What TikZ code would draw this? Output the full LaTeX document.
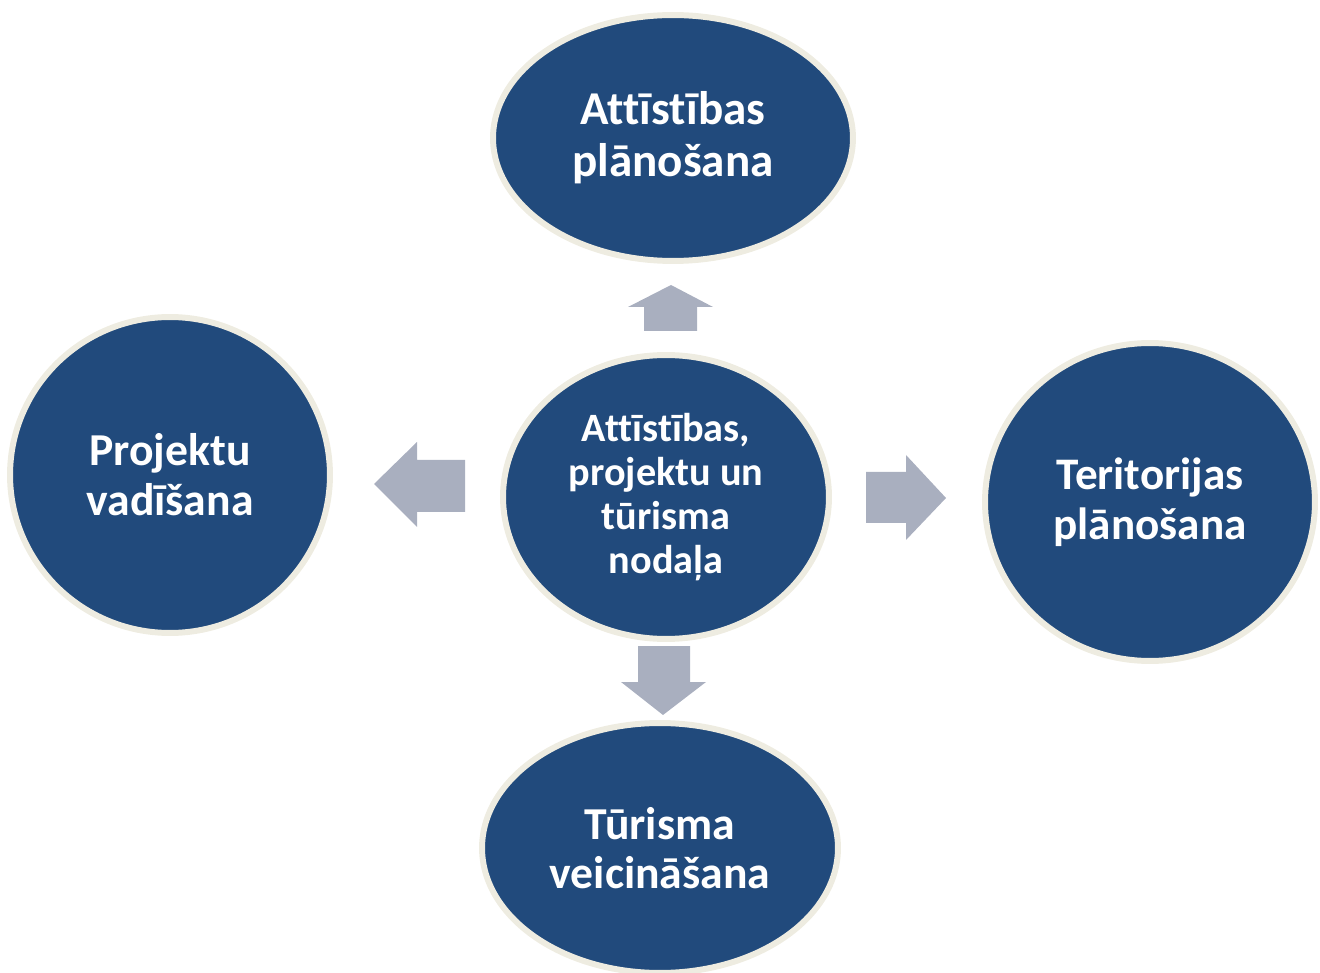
\documentclass[tikz,border=0pt]{standalone}
\usepackage{fontspec}
\setmainfont{Carlito}[Ligatures=NoCommon]
\usetikzlibrary{shapes.geometric}
\definecolor{bluefill}{HTML}{214A7C}
\definecolor{creamrim}{HTML}{EEECE1}
\definecolor{arrowgray}{HTML}{A9AFBF}
\tikzset{
  oval/.style={ellipse, fill=bluefill, draw=creamrim, line width=3.4pt, inner sep=0pt,
    text=white, align=center, font=\bfseries\fontsize{26}{28.3}\selectfont},
  blockarrow/.style={fill=arrowgray, draw=none}
}
\begin{document}
\begin{tikzpicture}[x=0.02cm,y=-0.02cm]
\useasboundingbox (0,0) rectangle (1320,973);
% block arrows
\fill[blockarrow] (671,285) -- (713,307) -- (697,307) -- (697,331) -- (644,331) -- (644,307) -- (628,307) -- cycle;
\fill[blockarrow] (374,484) -- (417,442) -- (417,460) -- (465,460) -- (465,512) -- (417,512) -- (417,527) -- cycle;
\fill[blockarrow] (946,498) -- (906,455) -- (906,472) -- (866,472) -- (866,523) -- (906,523) -- (906,540) -- cycle;
\fill[blockarrow] (663,715) -- (706,682) -- (690,682) -- (690,646) -- (638,646) -- (638,682) -- (621,682) -- cycle;
% ovals
\node[oval, minimum width=7.2cm, minimum height=4.92cm, font=\bfseries\fontsize{26.8}{29.5}\selectfont] (top) at (673,138) {Attīstības\\plānošana};
\node[oval, minimum width=6.4cm, minimum height=6.32cm] (left) at (170,475) {Projektu\\vadīšana};
\node[oval, minimum width=6.52cm, minimum height=5.68cm, font=\bfseries\fontsize{22.9}{24.9}\selectfont] (center) at (666,497) {Attīstības,\\projektu un\\tūrisma\\nodaļa};
\node[oval, minimum width=6.6cm, minimum height=6.36cm, font=\bfseries\fontsize{25.7}{28.3}\selectfont] (right) at (1150,502) {Teritorijas\\plānošana};
\node[oval, minimum width=7.12cm, minimum height=5.0cm] (bottom) at (660,848) {Tūrisma\\veicināšana};
\end{tikzpicture}
\end{document}
